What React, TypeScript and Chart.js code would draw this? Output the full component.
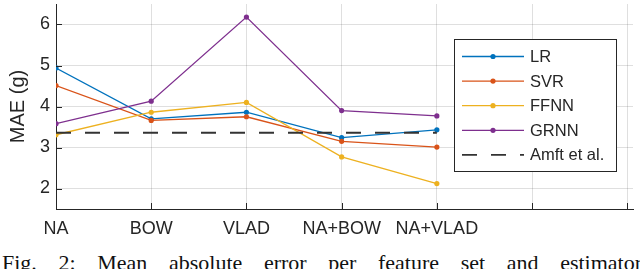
import React, { useEffect, useRef } from "react";
import { Chart, registerables } from "chart.js";

Chart.register(...registerables);

const categories = ["NA", "BOW", "VLAD", "NA+BOW", "NA+VLAD", "", ""];
const yTicks = [2, 3, 4, 5, 6];
const lr = [4.94, 3.7, 3.86, 3.24, 3.43];
const svr = [4.51, 3.66, 3.75, 3.15, 3.01];
const ffnn = [3.31, 3.86, 4.1, 2.77, 2.12];
const grnn = [3.58, 4.13, 6.18, 3.9, 3.77];
const amft = [3.36, 3.36, 3.36, 3.36, 3.36];

const seriesNames = ["LR", "SVR", "FFNN", "GRNN", "Amft et al."];
const seriesColors = ["#0072BD", "#D95319", "#EDB120", "#7E2F8E", "#333333"];

const AXIS = "#262626";
const GRID = "rgba(38,38,38,0.15)";
const SANS = "'Liberation Sans', Arial, sans-serif";

const toPts = (arr: number[]) => arr.map((y, i) => ({ x: i, y }));

const innerTicks = {
  id: "innerTicks",
  afterDatasetsDraw(chart: any) {
    const { ctx, chartArea, scales } = chart;
    ctx.save();
    ctx.strokeStyle = AXIS;
    ctx.lineWidth = 1;
    ctx.beginPath();
    categories.forEach((_, i) => {
      const px = Math.round(scales.x.getPixelForValue(i)) + 0.5;
      ctx.moveTo(px, chartArea.bottom);
      ctx.lineTo(px, chartArea.bottom - 6);
    });
    yTicks.forEach((v) => {
      const py = Math.round(scales.y.getPixelForValue(v)) + 0.5;
      ctx.moveTo(chartArea.left, py);
      ctx.lineTo(chartArea.left + 6, py);
    });
    ctx.stroke();
    ctx.restore();
  },
};

const boxLegend = {
  id: "boxLegend",
  afterDraw(chart: any) {
    const { ctx } = chart;
    const x0 = 454.5, y0 = 39.5, w = 162, h = 132;
    ctx.save();
    ctx.fillStyle = "#ffffff";
    ctx.fillRect(x0, y0, w, h);
    ctx.strokeStyle = AXIS;
    ctx.lineWidth = 1;
    ctx.strokeRect(x0, y0, w, h);
    ctx.font = `16.5px ${SANS}`;
    ctx.textBaseline = "middle";
    ctx.textAlign = "left";
    chart.data.datasets.forEach((ds: any, i: number) => {
      const cy = 56.5 + i * 24.6;
      ctx.strokeStyle = ds.borderColor;
      ctx.lineWidth = ds.borderWidth;
      ctx.setLineDash(ds.borderDash || []);
      ctx.beginPath();
      ctx.moveTo(462, cy);
      ctx.lineTo(524, cy);
      ctx.stroke();
      ctx.setLineDash([]);
      if (ds.pointRadius > 0) {
        ctx.fillStyle = ds.borderColor;
        ctx.beginPath();
        ctx.arc(493, cy, ds.pointRadius, 0, Math.PI * 2);
        ctx.fill();
      }
      ctx.fillStyle = AXIS;
      ctx.fillText(ds.label, 530, cy + 1);
    });
    ctx.restore();
  },
};

export default function App() {
  const ref = useRef<HTMLCanvasElement | null>(null);

  useEffect(() => {
    if (!ref.current) return;
    const lineDs = (i: number, arr: number[]) => ({
      label: seriesNames[i],
      data: toPts(arr),
      borderColor: seriesColors[i],
      backgroundColor: seriesColors[i],
      borderWidth: 1.3,
      pointRadius: 2.6,
      pointBorderWidth: 0,
      pointBackgroundColor: seriesColors[i],
      tension: 0,
      order: 6 - i,
    });
    const chart = new Chart(ref.current, {
      type: "line",
      data: {
        datasets: [
          lineDs(0, lr),
          lineDs(1, svr),
          lineDs(2, ffnn),
          lineDs(3, grnn),
          {
            label: seriesNames[4],
            data: toPts(amft),
            borderColor: seriesColors[4],
            backgroundColor: seriesColors[4],
            borderWidth: 1.8,
            borderDash: [15, 14],
            pointRadius: 0,
            tension: 0,
            order: 1,
          },
        ],
      },
      options: {
        responsive: false,
        animation: false,
        devicePixelRatio: 1,
        layout: { padding: { left: 0, right: 7, top: 0, bottom: 0 } },
        plugins: { legend: { display: false }, tooltip: { enabled: false } },
        scales: {
          x: {
            type: "linear",
            min: 0,
            max: 6.06,
            afterBuildTicks: (s: any) => {
              s.ticks = categories.map((_, i) => ({ value: i }));
            },
            afterFit: (s: any) => {
              s.height = 36;
              s.paddingLeft = 0;
              s.paddingRight = 0;
            },
            grid: { color: GRID, drawTicks: false, lineWidth: 1 },
            border: { color: AXIS, width: 1 },
            ticks: {
              padding: 9,
              color: AXIS,
              maxRotation: 0,
              autoSkip: false,
              font: { family: SANS, size: 18 },
              callback: (v: any) => categories[v] ?? "",
            },
          },
          y: {
            min: 1.5,
            max: 6.5,
            afterBuildTicks: (s: any) => {
              s.ticks = yTicks.map((v) => ({ value: v }));
            },
            afterFit: (s: any) => {
              s.width = 56;
              s.paddingTop = 0;
              s.paddingBottom = 0;
            },
            grid: { color: GRID, drawTicks: false, lineWidth: 1 },
            border: { color: AXIS, width: 1 },
            ticks: {
              padding: 6,
              color: AXIS,
              font: { family: SANS, size: 18 },
            },
            title: {
              display: true,
              text: "MAE (g)",
              color: AXIS,
              font: { family: SANS, size: 20 },
              padding: { top: 6, bottom: 0 },
            },
          },
        },
      },
      plugins: [innerTicks, boxLegend],
    });
    return () => chart.destroy();
  }, []);

  return (
    <div
      style={{
        position: "absolute",
        left: 0,
        top: 0,
        width: 640,
        height: 269,
        overflow: "hidden",
        background: "#fff",
      }}
    >
      <canvas ref={ref} width={640} height={245} style={{ display: "block" }} />
      <div
        style={{
          position: "absolute",
          left: 2,
          top: 252,
          width: 640,
          fontFamily: "'Liberation Serif', 'Times New Roman', serif",
          fontSize: 22,
          lineHeight: "22px",
          color: "#111",
          whiteSpace: "nowrap",
          textAlign: "justify",
          textAlignLast: "justify",
        }}
      >
        Fig. 2: Mean absolute error per feature set and estimator
      </div>
    </div>
  );
}
